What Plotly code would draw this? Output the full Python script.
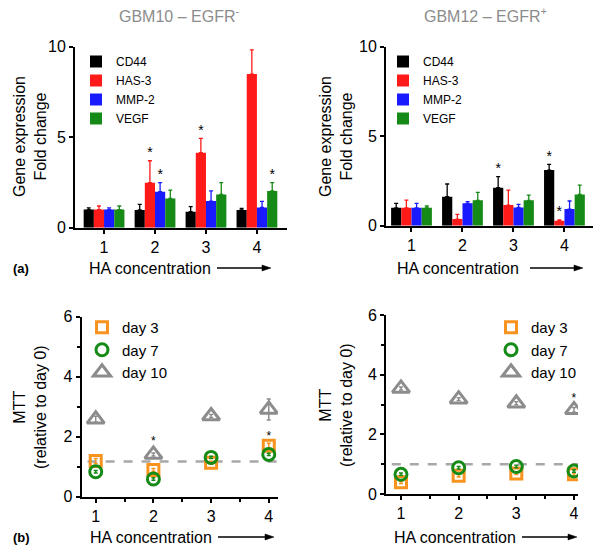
import plotly.graph_objects as go

# ---------------- data ----------------
conc = [1, 2, 3, 4]
genes = ["CD44", "HAS-3", "MMP-2", "VEGF"]
gene_colors = ["#000000", "#ff1a1a", "#1a1aff", "#168a16"]

# GBM10 (EGFR-) mean fold change and upper error-bar top
gbm10_mean = {
    "CD44": [1.0, 0.98, 0.88, 0.98],
    "HAS-3": [1.0, 2.49, 4.14, 8.49],
    "MMP-2": [1.0, 1.99, 1.47, 1.12],
    "VEGF": [1.0, 1.62, 1.84, 2.03],
}
gbm10_top = {
    "CD44": [1.10, 1.29, 1.16, 1.07],
    "HAS-3": [1.20, 3.70, 4.94, 9.82],
    "MMP-2": [1.10, 2.49, 2.04, 1.45],
    "VEGF": [1.20, 2.08, 2.49, 2.49],
}
gbm10_sig = {"CD44": [], "HAS-3": [2, 3, 4], "MMP-2": [2], "VEGF": [4]}

# GBM12 (EGFR+)
gbm12_mean = {
    "CD44": [1.0, 1.62, 2.12, 3.11],
    "HAS-3": [1.0, 0.37, 1.15, 0.28],
    "MMP-2": [1.0, 1.25, 1.02, 0.93],
    "VEGF": [1.0, 1.42, 1.42, 1.75],
}
gbm12_top = {
    "CD44": [1.25, 2.33, 2.74, 3.43],
    "HAS-3": [1.43, 0.63, 1.99, 0.32],
    "MMP-2": [1.25, 1.34, 1.19, 1.38],
    "VEGF": [1.10, 1.86, 1.71, 2.27],
}
gbm12_sig = {"CD44": [3, 4], "HAS-3": [4], "MMP-2": [], "VEGF": []}

# MTT
days = ["day 3", "day 7", "day 10"]
day_colors = ["#f7931e", "#168a16", "#8c8c8c"]
day_symbols = ["square-open", "circle-open", "triangle-up-open"]
mtt10 = {"day 3": [1.19, 0.89, 1.13, 1.70],
         "day 7": [0.83, 0.59, 1.31, 1.41],
         "day 10": [2.58, 1.41, 2.69, 2.91]}
mtt10_err = {"day 3": [0.08, 0.05, 0.05, 0.08],
             "day 7": [0.04, 0.04, 0.04, 0.04],
             "day 10": [0.1, 0.05, 0.05, 0.35]}
mtt12 = {"day 3": [0.39, 0.61, 0.69, 0.66],
         "day 7": [0.66, 0.88, 0.92, 0.77],
         "day 10": [3.54, 3.18, 3.04, 2.82]}
mtt12_err = {"day 3": [0.04, 0.04, 0.04, 0.04],
             "day 7": [0.04, 0.04, 0.04, 0.04],
             "day 10": [0.05, 0.05, 0.05, 0.08]}
mtt10_sig = [2, 4]
mtt10_sig_y = [1.82, 1.98]
mtt12_sig = [4]
mtt12_sig_y = [3.2]
baseline10 = 1.17
baseline12 = 1.0

FONT = "Arial, Liberation Sans, sans-serif"
W, H = 603, 551

def px(x):
    return x / W

def py(y):
    return 1 - y / H

fig = go.Figure()

offsets = [-0.3, -0.1, 0.1, 0.3]

def add_bars(mean, top, sig, xa, ya, legend):
    for gi, g in enumerate(genes):
        m = mean[g]
        t = top[g]
        fig.add_trace(go.Bar(
            x=conc, y=m, name=g, marker=dict(color=gene_colors[gi], line=dict(width=0)),
            error_y=dict(type="data", symmetric=False,
                         array=[tt - mm for tt, mm in zip(t, m)],
                         arrayminus=[0] * len(m),
                         color=gene_colors[gi], thickness=1.3, width=2),
            xaxis=xa, yaxis=ya, legend=legend, showlegend=True,
        ))
    for gi, g in enumerate(genes):
        sx = [c + offsets[gi] for c in sig[g]]
        sy = [top[g][c - 1] for c in sig[g]]
        if sx:
            fig.add_trace(go.Scatter(
                x=sx, y=sy, mode="text", text=["*"] * len(sx),
                textposition="top center", textfont=dict(size=14, color="black", family=FONT),
                xaxis=xa, yaxis=ya, showlegend=False, hoverinfo="skip"))

add_bars(gbm10_mean, gbm10_top, gbm10_sig, "x", "y", "legend")
add_bars(gbm12_mean, gbm12_top, gbm12_sig, "x2", "y2", "legend2")

sizes = [11, 12, 15]

def add_mtt(vals, errs, sig, sig_y, xa, ya, legend):
    for di, d in enumerate(days):
        fig.add_trace(go.Scatter(
            x=conc, y=vals[d], mode="markers", name=d,
            marker=dict(symbol=day_symbols[di], color=day_colors[di],
                        size=sizes[di], line=dict(width=3, color=day_colors[di])),
            error_y=dict(type="data", array=errs[d], color=day_colors[di], thickness=1.5, width=2),
            xaxis=xa, yaxis=ya, legend=legend))
    fig.add_trace(go.Scatter(
        x=sig, y=sig_y, mode="text", text=["*"] * len(sig), textposition="middle center",
        textfont=dict(size=12, color="black", family=FONT),
        xaxis=xa, yaxis=ya, showlegend=False, hoverinfo="skip"))

add_mtt(mtt10, mtt10_err, mtt10_sig, mtt10_sig_y, "x3", "y3", "legend3")
add_mtt(mtt12, mtt12_err, mtt12_sig, mtt12_sig_y, "x4", "y4", "legend4")

shapes = []
# dashed baselines
shapes.append(dict(type="line", xref="x3 domain", yref="y3", x0=0.03, x1=1.0,
                   y0=baseline10, y1=baseline10, line=dict(color="#a8a8a8", width=2.5, dash="dash"), layer="below"))
shapes.append(dict(type="line", xref="x4 domain", yref="y4", x0=0.03, x1=1.0,
                   y0=baseline12, y1=baseline12, line=dict(color="#a8a8a8", width=2.5, dash="dash"), layer="below"))

def arrow(x0, x1, y):
    shapes.append(dict(type="line", xref="paper", yref="paper", x0=px(x0), x1=px(x1 - 6),
                       y0=py(y), y1=py(y), line=dict(color="black", width=1.6)))
    shapes.append(dict(type="path", xref="paper", yref="paper",
                       path="M %f %f L %f %f L %f %f Z" % (px(x1), py(y), px(x1 - 9), py(y - 3),
                                                          px(x1 - 9), py(y + 3)),
                       fillcolor="black", line=dict(color="black", width=0.5)))

arrow(217, 271, 268)
arrow(530, 583, 268)
arrow(218, 274, 537)
arrow(522, 577, 537)

axis_common = dict(showline=True, linecolor="black", linewidth=2, ticks="outside",
                   tickcolor="black", tickwidth=1.5, ticklen=4, showgrid=False, zeroline=False,
                   automargin=False,
                   tickfont=dict(size=16, color="black", family=FONT))
minor_x = dict(tickvals=[1.5, 2.5, 3.5], ticks="outside", ticklen=3, tickcolor="black")
minor_y = dict(tickvals=[1, 3, 5], ticks="outside", ticklen=3, tickcolor="black")

legend_common = dict(xanchor="left", yanchor="top", bgcolor="rgba(0,0,0,0)", tracegroupgap=0, itemwidth=30)

fig.update_layout(
    width=W, height=H, margin=dict(l=0, r=0, t=0, b=0, pad=0), autosize=False,
    paper_bgcolor="white", plot_bgcolor="white",
    barmode="group", bargap=0.2, bargroupgap=0,
    font=dict(family=FONT, color="black"),
    xaxis=dict(domain=[px(75), px(287)], range=[0.43, 4.59], tickvals=conc, anchor="y", **axis_common),
    yaxis=dict(domain=[py(227.7), py(46.7)], range=[0, 10], tickvals=[0, 5, 10], anchor="x", **axis_common),
    xaxis2=dict(domain=[px(386), px(593)], range=[0.50, 4.56], tickvals=conc, anchor="y2", **axis_common),
    yaxis2=dict(domain=[py(225.7), py(46.7)], range=[0, 10], tickvals=[0, 5, 10], anchor="x2", **axis_common),
    xaxis3=dict(domain=[px(81.7), px(278)], range=[0.757, 4.16], tickvals=conc, anchor="y3",
                minor=minor_x, **axis_common),
    yaxis3=dict(domain=[py(496.7), py(316.7)], range=[0, 6], tickvals=[0, 2, 4, 6], anchor="x3",
                minor=minor_y, **axis_common),
    xaxis4=dict(domain=[px(386), px(578)], range=[0.74, 4.07], tickvals=conc, anchor="y4",
                minor=minor_x, **axis_common),
    yaxis4=dict(domain=[py(494), py(315)], range=[0, 6], tickvals=[0, 2, 4, 6], anchor="x4",
                minor=minor_y, **axis_common),
    legend=dict(x=px(76), y=py(47), font=dict(size=12, family=FONT), **legend_common),
    legend2=dict(x=px(383), y=py(47), font=dict(size=12, family=FONT), **legend_common),
    legend3=dict(x=px(82), y=py(311), font=dict(size=15, family=FONT), **legend_common),
    legend4=dict(x=px(491), y=py(311), font=dict(size=15, family=FONT), **legend_common),
    showlegend=True,
    shapes=shapes,
)

ann = []
def text(x, y, t, size=16, color="black", angle=0, xanchor="center", bold=False):
    ann.append(dict(x=px(x), y=py(y), xref="paper", yref="paper", text=("<b>%s</b>" % t if bold else t),
                    showarrow=False, textangle=angle, xanchor=xanchor, yanchor="middle",
                    font=dict(size=size, color=color, family=FONT)))

text(179, 15, "GBM10 – EGFR<sup>-</sup>", 16, "#8c8c8c")
text(485, 15, "GBM12 – EGFR<sup>+</sup>", 16, "#8c8c8c")

text(30, 137, "Gene expression<br>Fold change", 16, angle=-90)
text(336, 137, "Gene expression<br>Fold change", 16, angle=-90)
text(30, 407, "MTT<br>(relative to day 0)", 16, angle=-90)
text(336, 405, "MTT<br>(relative to day 0)", 16, angle=-90)

text(87, 268, "HA concentration", 16, xanchor="left")
text(395, 268, "HA concentration", 16, xanchor="left")
text(88, 537, "HA concentration", 16, xanchor="left")
text(392, 537, "HA concentration", 16, xanchor="left")

text(11, 268, "(a)", 13, xanchor="left", bold=True)
text(11, 537, "(b)", 13, xanchor="left", bold=True)

fig.update_layout(annotations=ann)
fig.write_html("out.html", config={"displayModeBar": False},
               post_script="document.body.style.margin='0';")
